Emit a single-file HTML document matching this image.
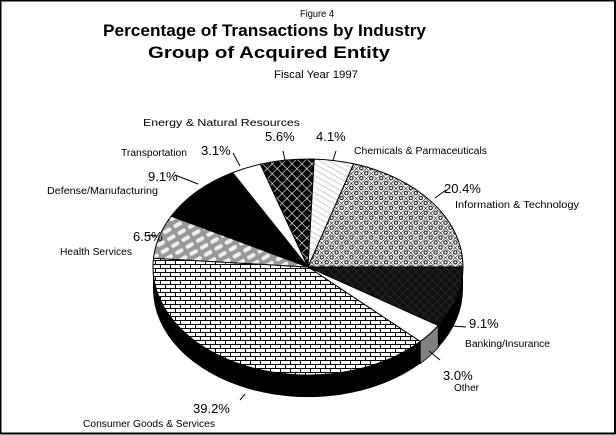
<!DOCTYPE html>
<html><head><meta charset="utf-8"><style>
html,body{margin:0;padding:0;background:#fff;}
svg{display:block;}
text{font-family:"Liberation Sans",Arial,sans-serif;fill:#000;}
</style></head><body>
<svg width="616" height="435" viewBox="0 0 616 435" xmlns="http://www.w3.org/2000/svg">
<defs>
<pattern id="it" width="7" height="7" patternUnits="userSpaceOnUse" patternTransform="rotate(45)">
<rect width="7" height="7" fill="#fff"/>
<path d="M0 0H7M0 0V7" stroke="#000" stroke-width="1"/>
<circle cx="3.5" cy="3.5" r="1.7" fill="none" stroke="#000" stroke-width="1"/>
</pattern>
<pattern id="en" width="7" height="7" patternUnits="userSpaceOnUse" patternTransform="rotate(45)">
<rect width="7" height="7" fill="#000"/>
<path d="M0 0H7M0 0V7" stroke="#fff" stroke-width="1.2"/>
</pattern>
<pattern id="ch" width="5" height="5" patternUnits="userSpaceOnUse" patternTransform="rotate(-60)">
<rect width="5" height="5" fill="#fff"/>
<path d="M0 0V5" stroke="#bbb" stroke-width="1.4"/>
</pattern>
<pattern id="he" width="12" height="8" patternUnits="userSpaceOnUse" patternTransform="rotate(-30)">
<rect width="12" height="8" fill="#999"/>
<rect x="1" y="1.5" width="9" height="4" rx="2" fill="#eee"/>
</pattern>
<pattern id="co" width="10" height="8" patternUnits="userSpaceOnUse">
<rect width="10" height="8" fill="#fff"/>
<path d="M0 0.5H10M0 4.5H10M0.5 0V4M5.5 4V8" stroke="#000" stroke-width="1"/>
</pattern>
<pattern id="ba" width="6" height="6" patternUnits="userSpaceOnUse" patternTransform="rotate(45)">
<rect width="6" height="6" fill="#111"/>
<path d="M0 0H6M0 0V6" stroke="#333" stroke-width="1"/>
</pattern>
</defs>
<rect x="0.5" y="0.5" width="614.5" height="433" fill="#fff" stroke="#000" stroke-width="2"/>

<text x="300" y="17" font-size="10" textLength="34" lengthAdjust="spacingAndGlyphs">Figure 4</text>
<text x="103" y="36" font-size="17" font-weight="bold" textLength="323" lengthAdjust="spacingAndGlyphs">Percentage of Transactions by Industry</text>
<text x="148" y="58" font-size="17" font-weight="bold" textLength="242" lengthAdjust="spacingAndGlyphs">Group of Acquired Entity</text>
<text x="274" y="78" font-size="11" textLength="84" lengthAdjust="spacingAndGlyphs">Fiscal Year 1997</text>

<path d="M463 267 A155 108 0 0 1 438.3 325.5 L438.3 347.5 A155 108 0 0 0 463 289 Z" fill="#000"/>
<path d="M438.3 325.5 A155 108 0 0 1 420.3 341.5 L420.3 363.5 A155 108 0 0 0 438.3 347.5 Z" fill="#808080" stroke="#000" stroke-width="0.8"/>
<path d="M420.3 341.5 A155 108 0 0 1 153 267 L153 289 A155 108 0 0 0 420.3 363.5 Z" fill="#000"/>

<g stroke="#000" stroke-width="1">
<path d="M308 267 L463 267 A155 108 0 0 1 438.3 325.5 Z" fill="url(#ba)"/>
<path d="M308 267 L438.3 325.5 A155 108 0 0 1 420.3 341.5 Z" fill="#fff"/>
<path d="M308 267 L420.3 341.5 A155 108 0 0 1 153.5 258.2 Z" fill="url(#co)"/>
<path d="M308 267 L153.5 258.2 A155 108 0 0 1 171.3 216.1 Z" fill="url(#he)"/>
<path d="M308 267 L171.3 216.1 A155 108 0 0 1 232.6 172.6 Z" fill="#000"/>
<path d="M308 267 L232.6 172.6 A155 108 0 0 1 260.4 164.2 Z" fill="#fff"/>
<path d="M308 267 L260.4 164.2 A155 108 0 0 1 314.2 159.1 Z" fill="url(#en)"/>
<path d="M308 267 L314.2 159.1 A155 108 0 0 1 353.6 163.8 Z" fill="url(#ch)"/>
<path d="M308 267 L353.6 163.8 A155 108 0 0 1 463 267 Z" fill="url(#it)"/>
</g>

<g stroke="#000" stroke-width="1" fill="none">
<path d="M240 166 L233 153"/>
<path d="M285 160 L283 151"/>
<path d="M333 160 L336 151"/>
<path d="M198 184 L175 175"/>
<path d="M435 198 L446 190"/>
<path d="M157 236 L148 235"/>
<path d="M452 326 L466 327"/>
<path d="M429 351 L440 360"/>
<path d="M245 394 L240 400"/>
</g>

<g font-size="10" lengthAdjust="spacingAndGlyphs">
<text x="143" y="126" textLength="157" lengthAdjust="spacingAndGlyphs">Energy &amp; Natural Resources</text>
<text x="121" y="156" textLength="66" lengthAdjust="spacingAndGlyphs">Transportation</text>
<text x="354" y="154" textLength="133" lengthAdjust="spacingAndGlyphs">Chemicals &amp; Parmaceuticals</text>
<text x="47" y="194" textLength="111" lengthAdjust="spacingAndGlyphs">Defense/Manufacturing</text>
<text x="455" y="208" textLength="124" lengthAdjust="spacingAndGlyphs">Information &amp; Technology</text>
<text x="60" y="255" textLength="72" lengthAdjust="spacingAndGlyphs">Health Services</text>
<text x="465" y="347" textLength="85" lengthAdjust="spacingAndGlyphs">Banking/Insurance</text>
<text x="454" y="391" textLength="25" lengthAdjust="spacingAndGlyphs">Other</text>
<text x="83" y="427" textLength="132" lengthAdjust="spacingAndGlyphs">Consumer Goods &amp; Services</text>
</g>
<g font-size="13">
<text x="201" y="155">3.1%</text>
<text x="265" y="141">5.6%</text>
<text x="316" y="141">4.1%</text>
<text x="148" y="181">9.1%</text>
<text x="444" y="193">20.4%</text>
<text x="133" y="241">6.5%</text>
<text x="469" y="328">9.1%</text>
<text x="443" y="380">3.0%</text>
<text x="193" y="413">39.2%</text>
</g>
</svg>
</body></html>
